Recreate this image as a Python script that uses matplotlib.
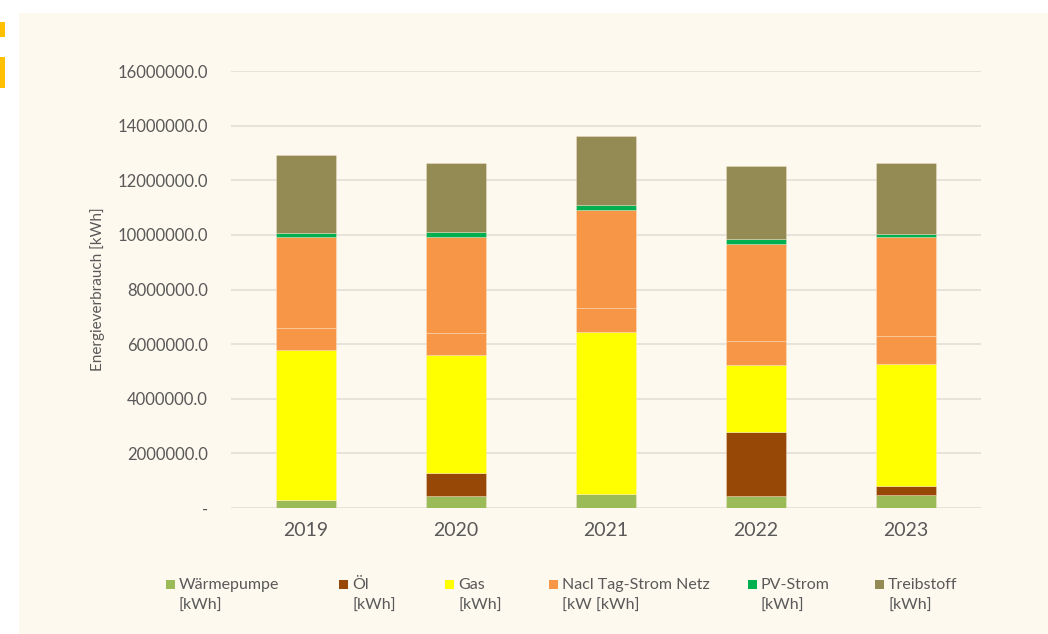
import matplotlib
matplotlib.use("Agg")
import matplotlib.pyplot as plt
from matplotlib.patches import Rectangle
from matplotlib.ticker import FuncFormatter
import numpy as np

years = ["2019", "2020", "2021", "2022", "2023"]

# values in kWh
waermepumpe = [280000, 430000, 510000, 440000, 470000]
oel = [0, 850000, 0, 2360000, 340000]
gas = [5510000, 4320000, 5920000, 2430000, 4480000]
nachtstrom = [810000, 820000, 910000, 900000, 990000]
tagstrom = [3310000, 3520000, 3570000, 3550000, 3640000]
pv_strom = [170000, 170000, 200000, 160000, 130000]
treibstoff = [2860000, 2510000, 2500000, 2700000, 2570000]

series = [waermepumpe, oel, gas, nachtstrom, tagstrom, pv_strom, treibstoff]
colors = ["#9BBB59", "#974706", "#FFFF00", "#F79646", "#F79646", "#00B050", "#948A54"]

legend_labels = ["Wärmepumpe\n[kWh]", "Öl\n[kWh]", "Gas\n[kWh]",
                 "Nacl Tag-Strom Netz\n[kW [kWh]", "PV-Strom\n[kWh]", "Treibstoff\n[kWh]"]
legend_colors = ["#9BBB59", "#974706", "#FFFF00", "#F79646", "#00B050", "#948A54"]
legend_x = [170, 343, 449, 553, 752, 879]

plt.rcParams["font.family"] = ["Lato", "DejaVu Sans"]
text_color = "#595959"
bg = "#FEF9EE"

W, H = 1048, 634
fig = plt.figure(figsize=(W / 100, H / 100), dpi=100)
fig.patch.set_facecolor("white")

# cream chart area and the gold marks at the left edge
fig.patches.append(Rectangle((19 / W, 0), 1 - 19 / W, (H - 13) / H,
                             transform=fig.transFigure, facecolor=bg,
                             edgecolor="none", zorder=-5))
fig.patches.append(Rectangle((0, (H - 37) / H), 5 / W, 15 / H,
                             transform=fig.transFigure, facecolor="#FFC000",
                             edgecolor="none", zorder=-5))
fig.patches.append(Rectangle((0, (H - 88) / H), 5 / W, 31 / H,
                             transform=fig.transFigure, facecolor="#FFC000",
                             edgecolor="none", zorder=-5))

ax = fig.add_axes([231 / W, (H - 508) / H, 750 / W, (508 - 71) / H])
ax.set_zorder(1)
ax.set_facecolor("none")

x = np.arange(len(years))
bottom = np.zeros(len(years))
for vals, c in zip(series, colors):
    ax.bar(x, vals, width=0.4, bottom=bottom, color=c,
           edgecolor=(1, 0.93, 0.85, 0.6), linewidth=0.4, zorder=3)
    bottom += np.array(vals)

ax.set_xlim(-0.5, 4.5)
ax.set_ylim(0, 16000000)
ax.set_yticks(np.arange(0, 16000001, 2000000))
ax.yaxis.set_major_formatter(FuncFormatter(lambda v, p: "-" if v == 0 else f"{v:.1f}"))
ax.set_xticks(x)
ax.set_xticklabels(years)
ax.grid(axis="y", color="#E3DFD6", linewidth=1.2, zorder=0)
ax.set_axisbelow(True)
for s in ["top", "right", "left", "bottom"]:
    ax.spines[s].set_visible(False)
ax.tick_params(axis="both", length=0, colors=text_color)
ax.tick_params(axis="y", labelsize=12, pad=16.5)
ax.tick_params(axis="x", labelsize=14, pad=10)
ax.set_ylabel("Energieverbrauch [kWh]", fontsize=11, color=text_color, labelpad=9)

# legend drawn by hand so the entries sit where the original puts them
for lab, c, lx in zip(legend_labels, legend_colors, legend_x):
    fig.patches.append(Rectangle(((lx - 4) / W, (H - 589) / H), 9 / W, 9 / H,
                                 transform=fig.transFigure, facecolor=c,
                                 edgecolor="none", zorder=2))
    first, second = lab.split("\n")
    fig.text((lx + 9) / W, (H - 585) / H, first, fontsize=11.5, color=text_color,
             va="center", ha="left")
    fig.text((lx + 9) / W, (H - 606) / H, second, fontsize=11.5, color=text_color,
             va="center", ha="left")

fig.savefig("out.png", dpi=100, facecolor=fig.get_facecolor())
